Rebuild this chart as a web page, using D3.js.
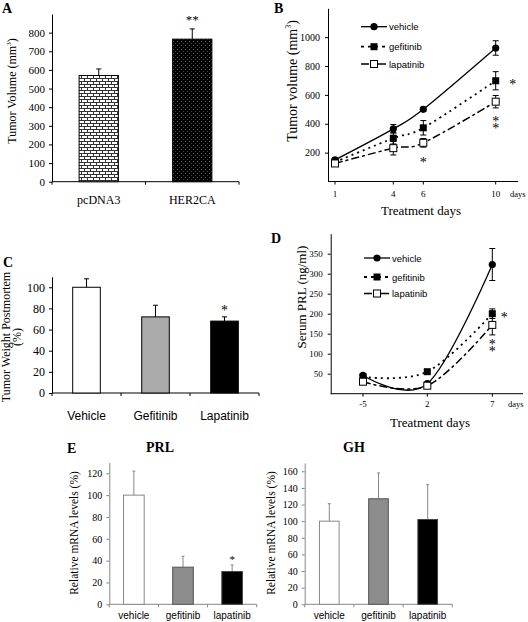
<!DOCTYPE html>
<html><head><meta charset="utf-8">
<script src="https://cdn.jsdelivr.net/npm/d3@7"></script>
<style>
body{margin:0;background:#fff;}
svg{display:block;}
</style></head>
<body>
<svg id="chart" width="528" height="622"></svg>
<script>
// ---------- DATA ----------
// Panel A
const aCategories = ["pcDNA3", "HER2CA"];
const aValues = [570, 765];
const aErrors = [35, 55];
const aTicks = [0, 100, 200, 300, 400, 500, 600, 700, 800];
// Panel B
const bDays = [1, 4, 6, 10];
const bVehicle = [150, 365, 500, 925];
const bVehicleErr = [10, 30, 15, 50];
const bGefitinib = [135, 300, 372, 698];
const bGefitinibErr = [10, 40, 50, 63];
const bLapatinib = [125, 231, 268, 553];
const bLapatinibErr = [10, 47, 30, 43];
const bYTicks = [200, 400, 600, 800, 1000];
// Panel C
const cCategories = ["Vehicle", "Gefitinib", "Lapatinib"];
const cValues = [100, 72, 68];
const cErrors = [8, 11, 4];
const cTicks = [0, 20, 40, 60, 80, 100];
// Panel D
const dDays = [-5, 2, 7];
const dVehicle = [46, 25, 323];
const dVehicleErr = [4, 3, 40];
const dGefitinib = [42, 55, 200];
const dGefitinibErr = [4, 4, 12];
const dLapatinib = [30, 20, 172];
const dLapatinibErr = [4, 3, 25];
const dYTicks = [50, 100, 150, 200, 250, 300, 350];
// Panel E
const eCategories = ["vehicle", "gefitinib", "lapatinib"];
const ePRL = [100, 34, 30];
const ePRLErr = [22, 10, 6];
const ePRLTicks = [0, 20, 40, 60, 80, 100, 120];
const eGH = [100, 127, 102];
const eGHErr = [21, 31, 42];
const eGHTicks = [0, 20, 40, 60, 80, 100, 120, 140, 160];

// ---------- SETUP ----------
const SERIF = "'Liberation Serif','Times New Roman',serif";
const SANS = "'Liberation Sans',Arial,sans-serif";
const svg = d3.select("#chart");
svg.append("rect").attr("width", 528).attr("height", 622).attr("fill", "#fff");

const defs = svg.append("defs");
const brick = defs.append("pattern").attr("id", "brick").attr("patternUnits", "userSpaceOnUse")
  .attr("width", 6).attr("height", 6);
brick.append("rect").attr("width", 6).attr("height", 6).attr("fill", "#fff");
brick.append("path").attr("d", "M0,0.5H6M0,3.5H6M0.5,0V3.5M3.5,3.5V6")
  .attr("stroke", "#333").attr("stroke-width", 1).attr("fill", "none");
const dots = defs.append("pattern").attr("id", "dots").attr("patternUnits", "userSpaceOnUse")
  .attr("width", 4).attr("height", 4);
dots.append("rect").attr("width", 4).attr("height", 4).attr("fill", "#000");
dots.append("rect").attr("x", 1).attr("y", 1).attr("width", 1).attr("height", 1).attr("fill", "#666");
dots.append("rect").attr("x", 3).attr("y", 3).attr("width", 1).attr("height", 1).attr("fill", "#444");

function panelLabel(txt, x, y) {
  svg.append("text").attr("x", x).attr("y", y).text(txt)
    .attr("font-family", SERIF).attr("font-weight", "bold").attr("font-size", 14);
}

function styleAxis(g, fontFamily, fontSize, color) {
  g.selectAll("path,line").attr("stroke", color || "#000").attr("stroke-width", 1);
  g.selectAll("text").attr("font-family", fontFamily).attr("font-size", fontSize).attr("fill", "#000");
}

function barChart(opt) {
  const g = svg.append("g");
  const x = d3.scaleBand().domain(opt.categories).range(opt.xRange)
    .paddingInner(opt.pad).paddingOuter(opt.pad / 2);
  const y = d3.scaleLinear().domain(opt.yDomain).range(opt.yRange);
  const axisColor = opt.axisColor || "#000";
  const ya = g.append("g").attr("transform", `translate(${opt.xRange[0]},0)`)
    .call(d3.axisLeft(y).tickValues(opt.yTicks).tickFormat(d3.format("d"))
      .tickSizeInner(3).tickSizeOuter(0).tickPadding(4));
  styleAxis(ya, SERIF, opt.yTickSize, axisColor);
  g.append("line").attr("x1", opt.xRange[0]).attr("x2", opt.xRange[1])
    .attr("y1", y(0)).attr("y2", y(0)).attr("stroke", axisColor);
  const step = x.step();
  const bounds = opt.categories.map(c => x(c) - step * opt.pad / 2);
  bounds.push(x(opt.categories[opt.categories.length - 1]) + x.bandwidth() + step * opt.pad / 2);
  g.selectAll(".bt").data(bounds).enter().append("line")
    .attr("x1", d => d).attr("x2", d => d).attr("y1", y(0)).attr("y2", y(0) + 3)
    .attr("stroke", axisColor);
  g.selectAll(".xl").data(opt.categories).enter().append("text")
    .attr("x", d => x(d) + x.bandwidth() / 2).attr("y", opt.labelY)
    .attr("text-anchor", "middle").attr("font-family", opt.labelFont)
    .attr("font-size", opt.labelSize).text(d => d);
  const ex = (d, i) => x(opt.categories[i]) + x.bandwidth() / 2;
  g.selectAll(".ev").data(opt.values).enter().append("line")
    .attr("x1", ex).attr("x2", ex)
    .attr("y1", d => y(d)).attr("y2", (d, i) => y(d + opt.errors[i]))
    .attr("stroke", opt.errColor || "#000");
  g.selectAll(".ec").data(opt.values).enter().append("line")
    .attr("x1", (d, i) => ex(d, i) - opt.cap).attr("x2", (d, i) => ex(d, i) + opt.cap)
    .attr("y1", (d, i) => y(d + opt.errors[i])).attr("y2", (d, i) => y(d + opt.errors[i]))
    .attr("stroke", opt.errColor || "#000");
  g.selectAll(".bar").data(opt.values).enter().append("rect")
    .attr("x", (d, i) => x(opt.categories[i])).attr("width", x.bandwidth())
    .attr("y", d => y(d)).attr("height", d => y(0) - y(d))
    .attr("fill", (d, i) => opt.fills[i]).attr("stroke", (d, i) => opt.strokes[i])
    .attr("stroke-width", opt.strokeWidth || 1);
  return { x, y, g };
}

function yLabel(cx, cy, size, family) {
  return svg.append("text").attr("transform", `translate(${cx},${cy}) rotate(-90)`)
    .attr("text-anchor", "middle").attr("font-family", family || SERIF).attr("font-size", size);
}

// ---------- PANEL A ----------
panelLabel("A", 2, 13);
const A = barChart({
  categories: aCategories, values: aValues, errors: aErrors,
  xRange: [52, 239], pad: 0.58, yDomain: [0, 900], yRange: [181.7, 14], yTicks: aTicks,
  yTickSize: 11, labelY: 204, labelFont: SERIF, labelSize: 12,
  fills: ["url(#brick)", "url(#dots)"], strokes: ["#000", "#000"], cap: 2.5
});
{
  const t = yLabel(16, 91, 12);
  t.append("tspan").text("Tumor Volume (mm");
  t.append("tspan").text("3").attr("font-size", 7).attr("dy", -5);
  t.append("tspan").text(")").attr("dy", 5);
  const i = 1;
  svg.append("text").attr("x", A.x(aCategories[i]) + A.x.bandwidth() / 2)
    .attr("y", A.y(aValues[i] + aErrors[i]) - 5).attr("text-anchor", "middle")
    .attr("font-family", SERIF).attr("font-size", 13).attr("fill", "#000").text("**");
}

function drawMarker(g, type, cx, cy) {
  if (type === "circle") {
    g.append("circle").attr("cx", cx).attr("cy", cy).attr("r", 3.6).attr("fill", "#000");
  } else if (type === "square") {
    g.append("rect").attr("x", cx - 3.5).attr("y", cy - 3.5).attr("width", 7).attr("height", 7).attr("fill", "#000");
  } else {
    g.append("rect").attr("x", cx - 3.5).attr("y", cy - 3.5).attr("width", 7).attr("height", 7)
      .attr("fill", "#fff").attr("stroke", "#000").attr("stroke-width", 1);
  }
}

function lineChart(opt) {
  const g = svg.append("g");
  const x = d3.scaleLinear().domain(opt.days).range(opt.xPos);
  const y = d3.scaleLinear().domain(opt.yDomain).range(opt.yRange);
  const ya = g.append("g").attr("transform", `translate(${opt.xAxisStart},0)`)
    .call(d3.axisLeft(y).tickValues(opt.yTicks).tickFormat(d3.format("d"))
      .tickSizeInner(3).tickSizeOuter(0).tickPadding(5));
  styleAxis(ya, SERIF, opt.yTickSize);
  g.append("line").attr("x1", opt.xAxisStart).attr("x2", opt.xAxisEnd)
    .attr("y1", y(0)).attr("y2", y(0)).attr("stroke", "#000");
  g.selectAll(".xt").data(opt.days).enter().append("line")
    .attr("x1", d => x(d)).attr("x2", d => x(d)).attr("y1", y(0)).attr("y2", y(0) + 3).attr("stroke", "#000");
  g.selectAll(".xtl").data(opt.days).enter().append("text")
    .attr("x", d => x(d)).attr("y", opt.tickLabelY).attr("text-anchor", "middle")
    .attr("font-family", SERIF).attr("font-size", opt.xTickSize).text(d => d);
  g.append("text").attr("x", opt.daysX).attr("y", opt.tickLabelY).attr("font-family", SERIF)
    .attr("font-size", 8.5).text("days");
  g.append("text").attr("x", opt.titleX).attr("y", opt.titleY).attr("text-anchor", "middle")
    .attr("font-family", SERIF).attr("font-size", 13).text("Treatment days");

  opt.series.forEach(s => {
    const pts = opt.days.map((d, i) => [x(d), y(s.values[i])]);
    g.append("path").attr("d", d3.line().curve(d3.curveCardinal.tension(0))(pts))
      .attr("fill", "none").attr("stroke", "#000").attr("stroke-width", s.width)
      .attr("stroke-dasharray", s.dash);
    opt.days.forEach((d, i) => {
      const cx = x(d), lo = y(s.values[i] - s.errors[i]), hi = y(s.values[i] + s.errors[i]);
      g.append("line").attr("x1", cx).attr("x2", cx).attr("y1", lo).attr("y2", hi).attr("stroke", "#000");
      g.append("line").attr("x1", cx - 3).attr("x2", cx + 3).attr("y1", lo).attr("y2", lo).attr("stroke", "#000");
      g.append("line").attr("x1", cx - 3).attr("x2", cx + 3).attr("y1", hi).attr("y2", hi).attr("stroke", "#000");
    });
    pts.forEach(p => drawMarker(g, s.marker, p[0], p[1]));
  });
  opt.series.forEach((s, i) => {
    const ly = opt.legendY[i];
    g.append("line").attr("x1", opt.legendX).attr("x2", opt.legendX + 26).attr("y1", ly).attr("y2", ly)
      .attr("stroke", "#000").attr("stroke-width", s.width).attr("stroke-dasharray", s.legendDash);
    drawMarker(g, s.marker, opt.legendX + 13, ly);
    g.append("text").attr("x", opt.legendX + 28).attr("y", ly + 3.5).attr("font-family", SANS)
      .attr("font-size", 9.5).text(s.name);
  });
  return { x, y, g };
}

function star(x, y, txt) {
  svg.append("text").attr("x", x).attr("y", y).attr("text-anchor", "middle")
    .attr("font-family", SERIF).attr("font-size", 14).attr("fill", "#000").text(txt);
}
function doubleStar(x, y) {
  const t = svg.append("text").attr("text-anchor", "middle")
    .attr("font-family", SERIF).attr("font-size", 14).attr("fill", "#000");
  t.append("tspan").attr("x", x).attr("y", y).text("*");
  t.append("tspan").attr("x", x).attr("y", y + 7).text("*");
}

// ---------- PANEL B ----------
panelLabel("B", 274, 13);
const B = lineChart({
  days: bDays, xPos: [335, 393.3, 423.3, 495.7], xAxisStart: 328, xAxisEnd: 518,
  yDomain: [0, 1200], yRange: [181.5, 8.3], yTicks: bYTicks, yTickSize: 10, xTickSize: 9,
  tickLabelY: 197, daysX: 510, titleX: 421, titleY: 215,
  legendX: 361, legendY: [26.7, 46.7, 64],
  series: [
    { name: "vehicle", values: bVehicle, errors: bVehicleErr, marker: "circle", width: 1.3, dash: null, legendDash: null },
    { name: "gefitinib", values: bGefitinib, errors: bGefitinibErr, marker: "square", width: 1.8, dash: "2,4", legendDash: "3,4" },
    { name: "lapatinib", values: bLapatinib, errors: bLapatinibErr, marker: "open", width: 1.5, dash: "8,3,3,3", legendDash: "8,3,3,3" }
  ]
});
{
  const t = yLabel(297, 81, 14);
  t.append("tspan").text("Tumor volume (mm");
  t.append("tspan").text("3").attr("font-size", 8).attr("dy", -6);
  t.append("tspan").text(")").attr("dy", 6);
  star(B.x(10) + 17, B.y(bGefitinib[3]) + 8, "*");
  doubleStar(B.x(10), B.y(bLapatinib[3] - bLapatinibErr[3]) + 18);
  star(B.x(6), B.y(bLapatinib[2] - bLapatinibErr[2]) + 20, "*");
}

// ---------- PANEL C ----------
panelLabel("C", 3, 267);
const C = barChart({
  categories: cCategories, values: cValues, errors: cErrors,
  xRange: [52, 259], pad: 0.6, yDomain: [0, 110], yRange: [393, 276.7], yTicks: cTicks,
  yTickSize: 12, labelY: 420, labelFont: SANS, labelSize: 12,
  fills: ["#fff", "#aaaaaa", "#000"], strokes: ["#000", "#000", "#000"], cap: 2.5
});
{
  yLabel(10, 337, 12).text("Tumor Weight Postmortem");
  yLabel(21, 337, 12).text("(%)");
  star(C.x("Lapatinib") + C.x.bandwidth() / 2, C.y(cValues[2] + cErrors[2]) - 2, "*");
}

// ---------- PANEL D ----------
panelLabel("D", 271, 243);
const D = lineChart({
  days: dDays, xPos: [363, 427.3, 492.3], xAxisStart: 330.7, xAxisEnd: 523,
  yDomain: [0, 400], yRange: [393.7, 233.7], yTicks: dYTicks, yTickSize: 9, xTickSize: 9,
  tickLabelY: 407, daysX: 508, titleX: 430, titleY: 427,
  legendX: 364, legendY: [258, 277, 293.5],
  series: [
    { name: "vehicle", values: dVehicle, errors: dVehicleErr, marker: "circle", width: 1.3, dash: null, legendDash: null },
    { name: "gefitinib", values: dGefitinib, errors: dGefitinibErr, marker: "square", width: 1.8, dash: "2,4", legendDash: "3,4" },
    { name: "lapatinib", values: dLapatinib, errors: dLapatinibErr, marker: "open", width: 1.5, dash: "8,3,3,3", legendDash: "8,3,3,3" }
  ]
});
{
  yLabel(306, 297, 13).text("Serum PRL (ng/ml)");
  star(D.x(7) + 12, D.y(dGefitinib[2]) + 8, "*");
  doubleStar(D.x(7), D.y(dLapatinib[2] - dLapatinibErr[2]) + 14);
}

// ---------- PANEL E ----------
panelLabel("E", 67, 453);
svg.append("text").attr("x", 160).attr("y", 452).attr("text-anchor", "middle")
  .attr("font-family", SERIF).attr("font-weight", "bold").attr("font-size", 14).text("PRL");
svg.append("text").attr("x", 354).attr("y", 452).attr("text-anchor", "middle")
  .attr("font-family", SERIF).attr("font-weight", "bold").attr("font-size", 14).text("GH");

const EP = barChart({
  categories: eCategories, values: ePRL, errors: ePRLErr,
  xRange: [109.3, 256.7], pad: 0.58, yDomain: [0, 130], yRange: [604.3, 462.4], yTicks: ePRLTicks,
  yTickSize: 10, labelY: 619, labelFont: SANS, labelSize: 10,
  fills: ["#fff", "#8c8c8c", "#000"], strokes: ["#888", "#555", "#444"], cap: 1.5,
  errColor: "#888", axisColor: "#888"
});
yLabel(78, 533, 11.5).text("Relative mRNA levels (%)");
svg.append("text").attr("x", EP.x("lapatinib") + EP.x.bandwidth() / 2)
  .attr("y", EP.y(ePRL[2] + ePRLErr[2]) - 2).attr("text-anchor", "middle")
  .attr("font-family", SERIF).attr("font-size", 11).attr("fill", "#000").text("*");

const EG = barChart({
  categories: eCategories, values: eGH, errors: eGHErr,
  xRange: [304.7, 452.3], pad: 0.6, yDomain: [0, 170], yRange: [604.3, 463], yTicks: eGHTicks,
  yTickSize: 10, labelY: 619, labelFont: SANS, labelSize: 10,
  fills: ["#fff", "#8c8c8c", "#000"], strokes: ["#888", "#555", "#444"], cap: 1.5,
  errColor: "#888", axisColor: "#888"
});
yLabel(275, 533, 11.5).text("Relative mRNA levels (%)");
</script>
</body></html>
